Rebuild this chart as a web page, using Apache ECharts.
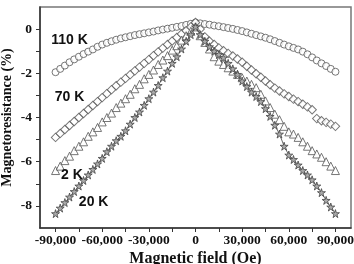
<!DOCTYPE html>
<html>
<head>
<meta charset="utf-8">
<script src="https://cdn.jsdelivr.net/npm/echarts@6/dist/echarts.min.js"></script>
<style>
  html, body { margin: 0; padding: 0; background: #fff; }
  #main { width: 354px; height: 264px; }
</style>
</head>
<body>
<div id="main"></div>
<script>
// magnetic field values (Oe), shared by all curves
var field = [
  -90000, -87000, -84000, -81000, -78000, -75000, -72000, -69000, -66000, -63000,
  -60000, -57000, -54000, -51000, -48000, -45000, -42000, -39000, -36000, -33000,
  -30000, -27000, -24000, -21000, -18000, -15000, -12000, -9000, -6000, -3000,
  0,
  3000, 6000, 9000, 12000, 15000, 18000, 21000, 24000, 27000, 30000,
  33000, 36000, 39000, 42000, 45000, 48000, 51000, 54000, 57000, 60000,
  63000, 66000, 69000, 72000, 75000, 78000, 81000, 84000, 87000, 90000
];

// magnetoresistance (%)
var mr110 = [
  -1.95, -1.8, -1.65, -1.5, -1.37, -1.25, -1.13, -1.02, -0.92, -0.8,
  -0.7, -0.62, -0.55, -0.48, -0.42, -0.37, -0.32, -0.27, -0.23, -0.19,
  -0.15, -0.11, -0.06, -0.02, 0.02, 0.06, 0.1, 0.14, 0.19, 0.24,
  0.3,
  0.26, 0.23, 0.2, 0.16, 0.13, 0.09, 0.05, 0.01, -0.04, -0.09,
  -0.15, -0.21, -0.27, -0.33, -0.39, -0.46, -0.54, -0.62, -0.7, -0.78,
  -0.85, -0.92, -1.02, -1.14, -1.28, -1.42, -1.55, -1.67, -1.8, -1.93
];
var mr70 = [
  -4.9, -4.72, -4.54, -4.36, -4.18, -4.0, -3.82, -3.64, -3.46, -3.28,
  -3.1, -2.92, -2.74, -2.56, -2.4, -2.23, -2.06, -1.89, -1.72, -1.55,
  -1.38, -1.2, -1.03, -0.86, -0.7, -0.54, -0.38, -0.22, -0.07, 0.1,
  0.3,
  0.0, -0.35, -0.55, -0.7, -0.85, -0.98, -1.1, -1.22, -1.35, -1.5,
  -1.68, -1.85, -2.02, -2.18, -2.35, -2.52, -2.67, -2.8, -2.93, -3.05,
  -3.17, -3.28, -3.4, -3.52, -3.65, -4.05, -4.15, -4.22, -4.3, -4.4
];
var mr2 = [
  -6.4, -6.2, -5.95, -5.75, -5.5, -5.3, -5.1, -4.85, -4.65, -4.45,
  -4.2, -4.0, -3.8, -3.55, -3.35, -3.15, -2.95, -2.7, -2.5, -2.25,
  -2.05, -1.85, -1.6, -1.4, -1.2, -0.95, -0.75, -0.5, -0.3, -0.1,
  0.1,
  -0.3, -0.6, -0.9, -1.25, -1.45, -1.6, -1.75, -1.9, -2.05, -2.2,
  -2.35, -2.5, -2.65, -2.95, -3.25, -3.55, -3.85, -4.1, -4.4, -4.65,
  -4.75, -4.9, -5.1, -5.3, -5.5, -5.65, -5.8, -6.0, -6.2, -6.4
];
var mr20 = [
  -8.35, -8.1, -7.85, -7.6, -7.35, -7.1, -6.85, -6.6, -6.35, -6.1,
  -5.85, -5.55, -5.3, -5.05, -4.85, -4.6, -4.3, -4.0, -3.75, -3.45,
  -3.15, -2.85, -2.55, -2.2, -1.9, -1.55, -1.25, -0.9, -0.55, -0.25,
  0.1,
  -0.25, -0.55, -0.8, -1.0, -1.15, -1.3, -1.55, -1.8, -2.05, -2.35,
  -2.6, -2.85, -3.05, -3.28, -3.6, -3.95, -4.35, -4.75, -5.3, -5.7,
  -5.9, -6.15, -6.4, -6.6, -6.82, -7.1, -7.4, -7.75, -8.05, -8.35
];

// axis ticks / labels
var xLabels = [-90000, -60000, -30000, 0, 30000, 60000, 90000];
var xTicks = [-90000, -75000, -60000, -45000, -30000, -15000, 0, 15000, 30000, 45000, 60000, 75000, 90000];
var yLabels = [-8, -6, -4, -2, 0];
var yTicks = [-8, -7, -6, -5, -4, -3, -2, -1, 0];

// curve annotations: [text, field, mr]
var curveLabels = [
  ['110 K', -81000, -0.5],
  ['70 K', -81000, -3.07],
  ['2 K', -79500, -6.6],
  ['20 K', -65500, -7.83]
];

var starPath = 'path://M50,0 L61,35 L98,35 L68,57 L79,91 L50,70 L21,91 L32,57 L2,35 L39,35 Z';

function pairs(ys) {
  return field.map(function (x, i) { return [x, ys[i]]; });
}

var serif = 'Liberation Serif';
var chart = echarts.init(document.getElementById('main'));

chart.setOption({
  animation: false,
  backgroundColor: '#fff',
  grid: {
    left: 40, right: 3, top: 7, bottom: 36,
    outerBoundsMode: 'none',
    containLabel: false,
    show: true, borderColor: '#777', borderWidth: 1.5
  },
  xAxis: {
    type: 'value',
    min: -100000, max: 100000,
    name: 'Magnetic field (Oe)',
    nameLocation: 'middle',
    nameGap: 23,
    nameMoveOverlap: false,
    nameTextStyle: { fontFamily: serif, fontWeight: 'bold', fontSize: 16, color: '#111' },
    axisLine: { show: true, onZero: false, lineStyle: { color: '#333', width: 1.5 } },
    axisTick: { show: true, length: 4, customValues: xTicks, lineStyle: { color: '#333' } },
    axisLabel: {
      customValues: xLabels,
      margin: 6,
      fontFamily: serif, fontWeight: 'bold', fontSize: 13.5, color: '#111',
      formatter: function (v) { return v.toLocaleString('en-US'); }
    },
    splitLine: { show: false }
  },
  yAxis: {
    type: 'value',
    min: -9, max: 1,
    name: 'Magnetoresistance (%)',
    nameLocation: 'middle',
    nameGap: 26,
    nameMoveOverlap: false,
    nameTextStyle: { fontFamily: serif, fontWeight: 'bold', fontSize: 14, color: '#111' },
    axisLine: { show: true, onZero: false, lineStyle: { color: '#333', width: 1.5 } },
    axisTick: { show: true, length: 4, customValues: yTicks, lineStyle: { color: '#333' } },
    axisLabel: {
      customValues: yLabels,
      margin: 8,
      fontFamily: serif, fontWeight: 'bold', fontSize: 13.5, color: '#111'
    },
    splitLine: { show: false }
  },
  series: [
    {
      name: '110 K', type: 'scatter', data: pairs(mr110),
      symbol: 'circle', symbolSize: 7,
      itemStyle: { color: '#fff', borderColor: '#555', borderWidth: 1 }
    },
    {
      name: '70 K', type: 'scatter', data: pairs(mr70),
      symbol: 'rect', symbolSize: 6, symbolRotate: 45,
      itemStyle: { color: '#fff', borderColor: '#555', borderWidth: 1 }
    },
    {
      name: '2 K', type: 'scatter', data: pairs(mr2),
      symbol: 'triangle', symbolSize: 8,
      itemStyle: { color: '#fff', borderColor: '#555', borderWidth: 1 }
    },
    {
      name: '20 K', type: 'line', data: pairs(mr20),
      symbol: starPath, symbolSize: 8, showAllSymbol: true,
      lineStyle: { color: '#444', width: 0.8 },
      itemStyle: { color: '#aaa', borderColor: '#444', borderWidth: 0.8 },
      markPoint: {
        symbol: 'circle', symbolSize: 0,
        label: {
          show: true, position: 'inside',
          fontFamily: 'Liberation Sans', fontWeight: 'bold', fontSize: 14, color: '#111',
          formatter: function (p) { return p.name; }
        },
        data: curveLabels.map(function (c) {
          return { name: c[0], coord: [c[1], c[2]] };
        })
      }
    }
  ]
});
</script>
</body>
</html>
